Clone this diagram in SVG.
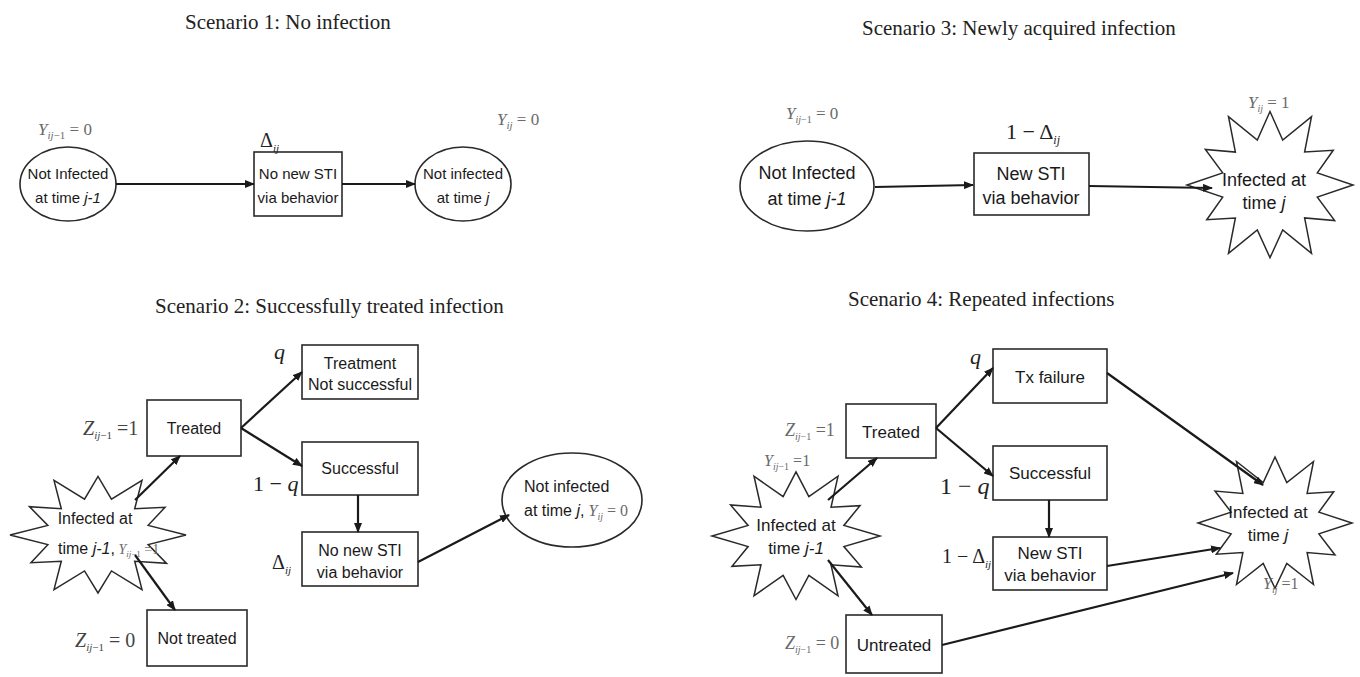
<svg xmlns="http://www.w3.org/2000/svg" width="1360" height="677" viewBox="0 0 1360 677">
<style>
.t{font-family:"Liberation Serif","Times New Roman",serif;font-size:21px;fill:#222}
.s{font-family:"Liberation Sans",Arial,sans-serif;fill:#1a1a1a;text-anchor:middle}
.m{font-family:"Liberation Serif","Times New Roman",serif;fill:#222}
.g{fill:#6a6a6a}
.d{fill:#444}
.i{font-style:italic}
.box{fill:#fff;stroke:#2a2a2a;stroke-width:1.6}
.ell{fill:#fff;stroke:#2a2a2a;stroke-width:1.6}
.star{fill:#fff;stroke:#2a2a2a;stroke-width:1.5}
.c{stroke:#1a1a1a;stroke-width:2.2;fill:none;marker-end:url(#ah)}
</style>
<defs>
<marker id="ah" markerWidth="10" markerHeight="8" refX="9" refY="4" orient="auto" markerUnits="userSpaceOnUse"><path d="M0,0 L10,4 L0,8 z" fill="#1a1a1a"/></marker>
<polygon id="star" vector-effect="non-scaling-stroke" points="100,0 57,15.3 77.9,45 41.7,41.7 50,86.6 15.3,57 0,92 -15.3,57 -50,86.6 -41.7,41.7 -76.2,44 -57,15.3 -100,0 -57,-15.3 -77.9,-45 -41.7,-41.7 -50,-86.6 -15.3,-57 0,-93 15.3,-57 50,-86.6 41.7,-41.7 76.2,-44 57,-15.3"/>
</defs>
<rect width="1360" height="677" fill="#fff"/>

<!-- Titles -->
<text class="t" x="185" y="29">Scenario 1: No infection</text>
<text class="t" x="862" y="35">Scenario 3: Newly acquired infection</text>
<text class="t" x="155" y="313">Scenario 2: Successfully treated infection</text>
<text class="t" x="848" y="306">Scenario 4: Repeated infections</text>

<!-- Scenario 1 -->
<g id="s1-notinf-prev">
<ellipse class="ell" cx="68" cy="184" rx="48" ry="37"/>
<text class="s" font-size="15" x="68" y="179">Not Infected</text>
<text class="s" font-size="15" x="68" y="203">at time <tspan class="i">j-1</tspan></text>
<text class="m g" font-size="17" x="38" y="135"><tspan class="i">Y</tspan><tspan class="i" font-size="11" dy="4">ij</tspan><tspan font-size="11">−1</tspan><tspan dy="-4"> = 0</tspan></text>
</g>
<g id="s1-nonew">
<rect class="box" x="254" y="152" width="88" height="64"/>
<text class="s" font-size="15" x="298" y="179">No new STI</text>
<text class="s" font-size="15" x="298" y="203">via behavior</text>
<text class="m" font-size="20" x="260" y="147">Δ<tspan class="i" font-size="11" dy="5">ij</tspan></text>
</g>
<g id="s1-notinf">
<ellipse class="ell" cx="463" cy="184" rx="48" ry="37"/>
<text class="s" font-size="15" x="463" y="179">Not infected</text>
<text class="s" font-size="15" x="463" y="203">at time <tspan class="i">j</tspan></text>
<text class="m g" font-size="17" x="497" y="125"><tspan class="i">Y</tspan><tspan class="i" font-size="11" dy="4">ij</tspan><tspan dy="-4"> = 0</tspan></text>
</g>

<!-- Scenario 3 -->
<g id="s3-notinf-prev">
<ellipse class="ell" cx="807" cy="186" rx="67" ry="45"/>
<text class="s" font-size="18" x="807" y="179">Not Infected</text>
<text class="s" font-size="18" x="807" y="205">at time <tspan class="i">j-1</tspan></text>
<text class="m g" font-size="17" x="786" y="119"><tspan class="i">Y</tspan><tspan class="i" font-size="10" dy="4">ij</tspan><tspan font-size="10">−1</tspan><tspan dy="-4"> = 0</tspan></text>
</g>
<g id="s3-newsti">
<rect class="box" x="974" y="153" width="115" height="62"/>
<text class="s" font-size="18" x="1031" y="180">New STI</text>
<text class="s" font-size="18" x="1031" y="204">via behavior</text>
<text class="m" font-size="22" x="1006" y="139">1 − Δ<tspan class="i" font-size="12" dy="5">ij</tspan></text>
</g>
<g id="s3-inf">
<use href="#star" class="star" transform="translate(1270,185) scale(0.83,0.79)"/>
<text class="s" font-size="18" x="1264" y="186">Infected at</text>
<text class="s" font-size="18" x="1264" y="209">time <tspan class="i">j</tspan></text>
<text class="m g" font-size="17" x="1248" y="108"><tspan class="i">Y</tspan><tspan class="i" font-size="10" dy="4">ij</tspan><tspan dy="-4"> = 1</tspan></text>
</g>

<!-- Scenario 2 -->
<g id="s2-inf-prev">
<use href="#star" class="star" transform="translate(98,535) scale(0.88,0.63)"/>
<text class="s" font-size="16" x="95" y="524">Infected at</text>
<text class="s" font-size="16" x="58" y="554" style="text-anchor:start">time <tspan class="i">j-1</tspan>,<tspan class="m g i" font-size="14"> Y</tspan><tspan class="m g i" font-size="9" dy="3">ij</tspan><tspan class="m g" font-size="9">−1</tspan><tspan class="m g" font-size="14" dy="-3"> =1</tspan></text>
</g>
<g id="s2-treated">
<rect class="box" x="147" y="400" width="94" height="56"/>
<text class="s" font-size="16" x="194" y="434">Treated</text>
<text class="m d" font-size="20" x="83" y="435"><tspan class="i">Z</tspan><tspan class="i" font-size="11" dy="4">ij</tspan><tspan font-size="11">−1</tspan><tspan dy="-4"> =1</tspan></text>
</g>
<g id="s2-notsucc">
<rect class="box" x="302" y="345" width="116" height="54"/>
<text class="s" font-size="16" x="360" y="369">Treatment</text>
<text class="s" font-size="16" x="360" y="390">Not successful</text>
<text class="m i" font-size="22" x="274" y="359">q</text>
</g>
<g id="s2-succ">
<rect class="box" x="302" y="442" width="116" height="53"/>
<text class="s" font-size="16" x="360" y="474">Successful</text>
<text class="m" font-size="22" x="253" y="491">1 − <tspan class="i">q</tspan></text>
</g>
<g id="s2-nonew">
<rect class="box" x="302" y="532" width="116" height="54"/>
<text class="s" font-size="16" x="360" y="556">No new STI</text>
<text class="s" font-size="16" x="360" y="578">via behavior</text>
<text class="m" font-size="20" x="272" y="569">Δ<tspan class="i" font-size="11" dy="5">ij</tspan></text>
</g>
<g id="s2-notinf">
<ellipse class="ell" cx="572" cy="500" rx="70" ry="47"/>
<text class="s" font-size="16" x="524" y="492" style="text-anchor:start">Not infected</text>
<text class="s" font-size="16" x="524" y="516" style="text-anchor:start">at time <tspan class="i">j</tspan>,<tspan class="m g i" font-size="16"> Y</tspan><tspan class="m g i" font-size="10" dy="4">ij</tspan><tspan class="m g" font-size="16" dy="-4"> = 0</tspan></text>
</g>
<g id="s2-nottreated">
<rect class="box" x="147" y="610" width="100" height="56"/>
<text class="s" font-size="16" x="197" y="644">Not treated</text>
<text class="m d" font-size="20" x="75" y="647"><tspan class="i">Z</tspan><tspan class="i" font-size="11" dy="4">ij</tspan><tspan font-size="11">−1</tspan><tspan dy="-4"> = 0</tspan></text>
</g>

<!-- Scenario 4 -->
<g id="s4-inf-prev">
<use href="#star" class="star" transform="translate(796,536) scale(0.84,0.69)"/>
<text class="s" font-size="17" x="796" y="531">Infected at</text>
<text class="s" font-size="17" x="796" y="554">time <tspan class="i">j-1</tspan></text>
<text class="m g" font-size="16" x="764" y="466"><tspan class="i">Y</tspan><tspan class="i" font-size="10" dy="4">ij</tspan><tspan font-size="10">−1</tspan><tspan dy="-4"> =1</tspan></text>
</g>
<g id="s4-treated">
<rect class="box" x="846" y="404" width="90" height="54"/>
<text class="s" font-size="17" x="891" y="438">Treated</text>
<text class="m g" font-size="18" x="785" y="436"><tspan class="i">Z</tspan><tspan class="i" font-size="10" dy="4">ij</tspan><tspan font-size="10">−1</tspan><tspan dy="-4"> =1</tspan></text>
</g>
<g id="s4-txfail">
<rect class="box" x="993" y="349" width="114" height="54"/>
<text class="s" font-size="17" x="1050" y="383">Tx failure</text>
<text class="m i" font-size="22" x="970" y="364">q</text>
</g>
<g id="s4-succ">
<rect class="box" x="993" y="446" width="114" height="54"/>
<text class="s" font-size="17" x="1050" y="479">Successful</text>
<text class="m" font-size="24" x="940" y="494">1 − <tspan class="i">q</tspan></text>
</g>
<g id="s4-newsti">
<rect class="box" x="993" y="537" width="114" height="53"/>
<text class="s" font-size="17" x="1050" y="559">New STI</text>
<text class="s" font-size="17" x="1050" y="581">via behavior</text>
<text class="m" font-size="20" x="942" y="563">1 − Δ<tspan class="i" font-size="11" dy="5">ij</tspan></text>
</g>
<g id="s4-untreated">
<rect class="box" x="846" y="615" width="96" height="58"/>
<text class="s" font-size="17" x="894" y="651">Untreated</text>
<text class="m g" font-size="18" x="785" y="649"><tspan class="i">Z</tspan><tspan class="i" font-size="10" dy="4">ij</tspan><tspan font-size="10">−1</tspan><tspan dy="-4"> = 0</tspan></text>
</g>
<g id="s4-inf">
<use href="#star" class="star" transform="translate(1275,523) scale(0.77,0.71)"/>
<text class="s" font-size="17" x="1268" y="518">Infected at</text>
<text class="s" font-size="17" x="1268" y="541">time <tspan class="i">j</tspan></text>
<text class="m g" font-size="16" x="1263" y="589"><tspan class="i">Y</tspan><tspan class="i" font-size="10" dy="4">ij</tspan><tspan dy="-4"> =1</tspan></text>
</g>

<!-- Connectors -->
<g id="connectors">
<line class="c" x1="116" y1="184" x2="254" y2="184"/>
<line class="c" x1="342" y1="184" x2="415" y2="184"/>
<line class="c" x1="875" y1="187" x2="973" y2="185"/>
<line class="c" x1="1089" y1="186" x2="1212" y2="188"/>
<line class="c" x1="135" y1="500" x2="180" y2="456"/>
<line class="c" x1="135" y1="555" x2="175" y2="610"/>
<line class="c" x1="241" y1="428" x2="302" y2="372"/>
<line class="c" x1="241" y1="428" x2="302" y2="466"/>
<line class="c" x1="358" y1="495" x2="358" y2="532"/>
<line class="c" x1="418" y1="562" x2="509" y2="515"/>
<line class="c" x1="828" y1="500" x2="877" y2="458"/>
<line class="c" x1="828" y1="560" x2="872" y2="615"/>
<line class="c" x1="936" y1="428" x2="993" y2="368"/>
<line class="c" x1="936" y1="428" x2="993" y2="476"/>
<line class="c" x1="1049" y1="500" x2="1049" y2="537"/>
<line class="c" x1="1107" y1="373" x2="1263" y2="485"/>
<line class="c" x1="1107" y1="566" x2="1220" y2="548"/>
<line class="c" x1="942" y1="645" x2="1233" y2="573"/>
</g>
</svg>
